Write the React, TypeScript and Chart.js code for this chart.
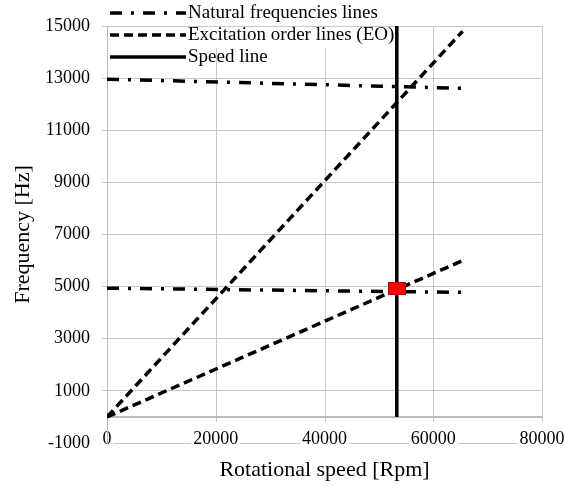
import React, { useEffect, useRef } from 'react';
import { Chart, registerables } from 'chart.js';

Chart.register(...registerables);

// ---- data ----
const nfRpm = [0, 65400];
const nfHigh = [12960, 12610];
const nfLow = [4940, 4780];
const eoRpm = [0, 65400];
const eoHigh = [0, 14800];
const eoLow = [0, 6000];
const speedRpm = [53300, 53300];
const speedFreq = [0, 15000];
const markRpm = [53300];
const markFreq = [4930];
const xTicks = [0, 20000, 40000, 60000, 80000];
const yTicks = [-1000, 1000, 3000, 5000, 7000, 9000, 11000, 13000, 15000];
const legendLabels = ['Natural frequencies lines', 'Excitation order lines (EO)', 'Speed line'];

const FONT = "'Liberation Serif', 'Times New Roman', serif";
const NF_DASH = [12, 9, 3, 9];
const EO_DASH = [9, 5];

const pts = (xs: number[], ys: number[]) => xs.map((x, i) => ({ x, y: ys[i] }));

const decorPlugin = {
  id: 'decor',
  beforeDatasetsDraw(chart: any) {
    const { ctx, chartArea } = chart;
    const x = chart.scales.x;
    const y = chart.scales.y;
    const y0 = y.getPixelForValue(0);
    ctx.save();
    // vertical gridlines (down to the zero axis)
    ctx.strokeStyle = '#c8c8c8';
    ctx.lineWidth = 1;
    xTicks.forEach((v) => {
      if (v === 0) return;
      const px = Math.round(x.getPixelForValue(v)) + 0.5;
      ctx.beginPath();
      ctx.moveTo(px, chartArea.top);
      ctx.lineTo(px, y0 + 5);
      ctx.stroke();
    });
    // zero axis line
    ctx.strokeStyle = '#a6a6a6';
    ctx.lineWidth = 1.5;
    ctx.beginPath();
    ctx.moveTo(chartArea.left, y0);
    ctx.lineTo(chartArea.right, y0);
    ctx.stroke();
    // legend
    ctx.fillStyle = '#ffffff';
    ctx.fillRect(chartArea.left + 1, chartArea.top + 1, 285, 21);
    const rows = [chartArea.top - 13, chartArea.top + 9, chartArea.top + 31];
    const x1 = chartArea.left + 3;
    const x2 = chartArea.left + 79;
    ctx.strokeStyle = '#000';
    ctx.lineWidth = 3.5;
    const dashes = [NF_DASH, EO_DASH, []];
    rows.forEach((ry, i) => {
      ctx.setLineDash(dashes[i]);
      ctx.beginPath();
      ctx.moveTo(x1, ry);
      ctx.lineTo(x2, ry);
      ctx.stroke();
    });
    ctx.setLineDash([]);
    ctx.fillStyle = '#000';
    ctx.font = `19px ${FONT}`;
    ctx.textBaseline = 'middle';
    ctx.textAlign = 'left';
    rows.forEach((ry, i) => {
      ctx.fillText(legendLabels[i], chartArea.left + 81, ry);
    });
    ctx.restore();
  },
};

export default function App() {
  const ref = useRef<HTMLCanvasElement>(null);
  useEffect(() => {
    document.body.style.margin = '0';
    const mk = document.createElement('canvas');
    mk.width = 18;
    mk.height = 13;
    const c = mk.getContext('2d')!;
    c.fillStyle = '#ff0000';
    c.fillRect(0, 0, 18, 13);
    c.strokeStyle = '#c00000';
    c.lineWidth = 1;
    c.strokeRect(0.5, 0.5, 17, 12);

    const lineDs = (label: string, xs: number[], ys: number[], dash: number[], order: number) => ({
      label,
      data: pts(xs, ys),
      borderColor: '#000',
      backgroundColor: '#000',
      borderWidth: 3.5,
      borderDash: dash,
      pointRadius: 0,
      fill: false,
      tension: 0,
      order,
    });

    const chart = new Chart(ref.current!, {
      type: 'line',
      data: {
        datasets: [
          {
            label: 'Resonance',
            data: pts(markRpm, markFreq),
            showLine: false,
            pointStyle: mk as any,
            pointRadius: 9,
            borderColor: '#ff0000',
            backgroundColor: '#ff0000',
            order: 0,
          } as any,
          lineDs('Speed line', speedRpm, speedFreq, [], 1),
          lineDs('EO high', eoRpm, eoHigh, EO_DASH, 2),
          lineDs('EO low', eoRpm, eoLow, EO_DASH, 2),
          lineDs('NF high', nfRpm, nfHigh, NF_DASH, 3),
          lineDs('NF low', nfRpm, nfLow, NF_DASH, 3),
        ],
      },
      options: {
        animation: false,
        responsive: false,
        devicePixelRatio: 1,
        layout: { padding: { top: 26, right: 22, left: 0, bottom: 0 } },
        plugins: { legend: { display: false }, tooltip: { enabled: false } },
        scales: {
          x: {
            type: 'linear',
            min: 0,
            max: 80000,
            afterBuildTicks: (s: any) => {
              s.ticks = xTicks.map((v) => ({ value: v }));
            },
            afterFit: (s: any) => {
              s.height = 43;
            },
            afterUpdate: (s: any) => {
              // let the tick labels sit on the bottom gridline (no clipping to the axis box)
              s._computeLabelArea = () => undefined;
            },
            grid: { display: false, drawTicks: false },
            border: { display: false },
            ticks: {
              font: { family: FONT, size: 18 },
              color: '#000',
              padding: -15,
              maxRotation: 0,
              autoSkip: false,
              callback: (v: any) => String(v),
              showLabelBackdrop: true,
              backdropColor: '#ffffff',
              backdropPadding: { x: 2, y: 0 },
            } as any,
            title: {
              display: true,
              text: 'Rotational speed [Rpm]',
              font: { family: FONT, size: 22 },
              color: '#000',
              padding: { top: 0, bottom: 3 },
            },
          },
          y: {
            type: 'linear',
            min: -1000,
            max: 15000,
            afterBuildTicks: (s: any) => {
              s.ticks = yTicks.map((v) => ({ value: v }));
            },
            afterFit: (s: any) => {
              s.width = 107;
            },
            grid: { color: '#c8c8c8', lineWidth: 1, tickLength: 5, drawTicks: true },
            border: { display: true, color: '#bdbdbd', width: 1 },
            ticks: {
              font: { family: FONT, size: 18 },
              color: '#000',
              padding: 12,
              callback: (v: any) => String(v),
            },
            title: {
              display: true,
              text: 'Frequency [Hz]',
              font: { family: FONT, size: 22 },
              color: '#000',
              padding: { top: 10, bottom: 0 },
            },
          },
        },
      },
      plugins: [decorPlugin],
    });
    return () => chart.destroy();
  }, []);
  return <canvas ref={ref} width={564} height={486} style={{ display: 'block' }} />;
}
